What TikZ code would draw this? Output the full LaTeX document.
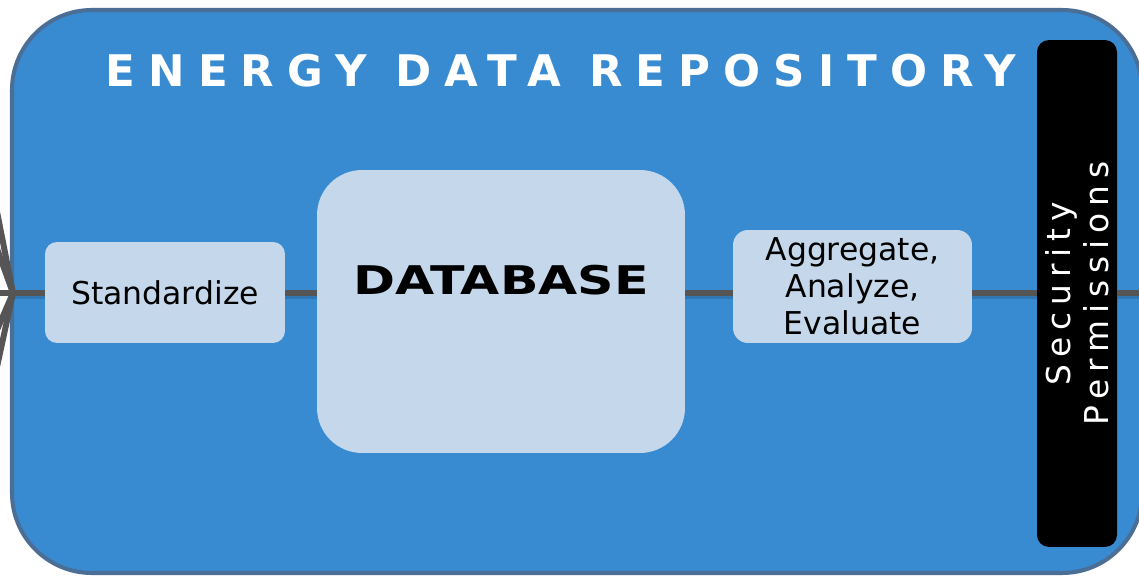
\documentclass[tikz,border=0pt]{standalone}
\usepackage{fontspec}
\setmainfont{DejaVu Sans}
\newfontfamily\titlefont[LetterSpace=30]{DejaVu Sans}
\newfontfamily\dbfont[FakeStretch=1.28]{DejaVu Sans}
\newfontfamily\secfont[LetterSpace=21]{DejaVu Sans}
\definecolor{repoblue}{RGB}{56,139,208}
\definecolor{repoedge}{RGB}{75,110,150}
\definecolor{boxfill}{RGB}{197,215,235}
\definecolor{linkgray}{RGB}{85,85,85}

\begin{document}
\begin{tikzpicture}[x=0.02cm,y=-0.02cm,
  stage/.style={fill=boxfill,rounded corners=0.24cm,align=center,inner sep=0pt,
    font=\fontsize{17.9}{21}\selectfont},
  fan/.style={draw=linkgray,line width=3.4pt},
  link/.style={draw=linkgray,line width=3.4pt,
    preaction={draw=repoblue!60!black,line width=3pt,opacity=0.35,transform canvas={yshift=-1.7pt}}}]
  \fill[white] (0,0) rectangle (1139,577);
  \clip (0,0) rectangle (1139,577);
  \draw[fill=repoblue,draw=repoedge,line width=2.3pt,rounded corners=1.6cm] (12,10) rectangle (1142,573);
  \node[text=white,font=\titlefont\bfseries\fontsize{24.8}{30}\selectfont] (title) at (561,71) {ENERGY DATA REPOSITORY};
  \node[stage,minimum width=4.8cm,minimum height=2.02cm] (std) at (165,292.5) {Standardize};
  \node[stage,minimum width=7.36cm,minimum height=5.66cm,rounded corners=0.9cm] (db) at (501,311.5) {};
  \node[font=\dbfont\bfseries\fontsize{22.5}{26}\selectfont] (dblabel) at ([yshift=0.62cm]db.center) {DATABASE};
  \node[stage,minimum width=4.78cm,minimum height=2.26cm,rounded corners=0.3cm] (agg) at (852.5,286.5) {Aggregate,\\Analyze,\\Evaluate};
  \node[fill=black,rounded corners=0.24cm,minimum width=1.6cm,minimum height=10.14cm,inner sep=0pt] (sec) at (1077,293.5) {};
  \node[text=white,rotate=90,align=center,font=\secfont\fontsize{18.7}{21.5}\selectfont] (seclabel) at (sec.center) {Security\\Permissions};
  \coordinate (hub) at (13,293);
  \coordinate (out) at (1145,293);
  \foreach \dy [count=\i] in {-132,-72,0,60,120}
    \coordinate (src\i) at (-13,293+\dy);
  \foreach \i in {1,...,5}
    \draw[fan] (src\i) -- (hub);
  \draw[link] (hub) -- (hub -| std.west);
  \draw[link] (hub -| std.east) -- (hub -| db.west);
  \draw[link] (hub -| db.east) -- (hub -| agg.west);
  \draw[link] (hub -| agg.east) -- (hub -| sec.west);
  \draw[link] (hub -| sec.east) -- (out);
\end{tikzpicture}
\end{document}
